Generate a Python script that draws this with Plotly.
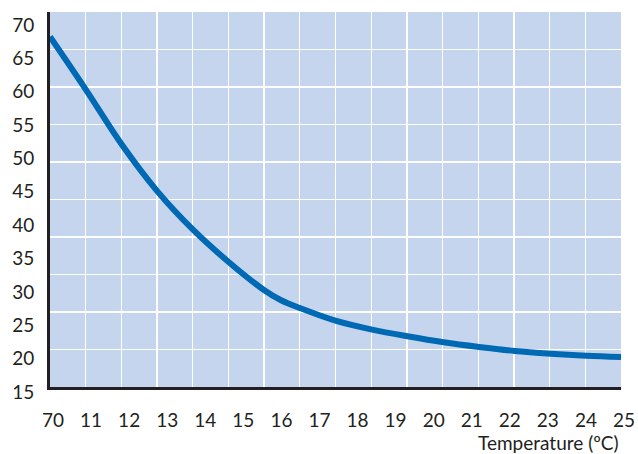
import plotly.graph_objects as go

# Curve readings (temperature, value)
temps = [10.00, 10.95, 11.89, 12.81, 13.77, 14.70, 15.63, 16.07, 16.58,
         17.52, 18.46, 19.39, 20.34, 21.27, 22.21, 23.15, 24.09, 25.00]
values = [67.5, 59.5, 51.3, 44.4, 38.5, 33.7, 29.5, 28.0, 26.8,
          24.9, 23.6, 22.6, 21.7, 21.0, 20.4, 20.0, 19.7, 19.5]

x_tickvals = list(range(10, 26))
x_ticktext = ["70", "11", "12", "13", "14", "15", "16", "17", "18", "19",
              "20", "21", "22", "23", "24", "25"]
y_tickvals = list(range(15, 75, 5))
y_ticktext = [str(v) for v in y_tickvals]
x_title = "Temperature (ºC)"

FONT = "Lato"
TXT = "#231F20"
FS = 19

fig = go.Figure()
# invisible trace to hold the grid subplot
fig.add_trace(go.Scatter(x=[0], y=[0], mode="markers", marker=dict(opacity=0),
                         hoverinfo="skip", showlegend=False, xaxis="x", yaxis="y"))
fig.add_trace(go.Scatter(x=temps, y=values, mode="lines",
                         line=dict(color="#0069B4", width=6, shape="spline", smoothing=1.0),
                         hoverinfo="skip", showlegend=False, xaxis="x2", yaxis="y2"))

fig.update_layout(
    template="none",
    width=638, height=454,
    margin=dict(l=50, r=17, t=12, b=67, pad=0),
    paper_bgcolor="white",
    plot_bgcolor="#C6D5EE",
    font=dict(family=FONT, size=FS, color=TXT),
    hovermode=False,
    xaxis=dict(range=[0, 16], dtick=1, tick0=0, showgrid=True, gridcolor="white", gridwidth=1.3,
               showticklabels=False, zeroline=False, ticks="", showline=False,
               automargin=False, fixedrange=True),
    yaxis=dict(range=[0, 10], dtick=1, tick0=0, showgrid=True, gridcolor="white", gridwidth=1.3,
               showticklabels=False, zeroline=False, ticks="", showline=False,
               automargin=False, fixedrange=True),
    xaxis2=dict(overlaying="x", anchor="y2", side="bottom", range=[10, 25],
                tickmode="array", tickvals=x_tickvals, ticktext=x_ticktext,
                showgrid=False, zeroline=False, ticks="",
                showline=True, linecolor=TXT, linewidth=3,
                ticklabelshift=3, ticklabelstandoff=14, automargin=False,
                ticklabeloverflow="allow", fixedrange=True,
                tickfont=dict(family=FONT, size=FS, color=TXT)),
    yaxis2=dict(overlaying="y", anchor="x2", side="left", range=[15, 71.2],
                tickmode="array", tickvals=y_tickvals, ticktext=y_ticktext,
                showgrid=False, zeroline=False, ticks="",
                showline=True, linecolor=TXT, linewidth=3,
                ticklabelshift=5, ticklabelstandoff=9, automargin=False,
                ticklabeloverflow="allow", fixedrange=True,
                tickfont=dict(family=FONT, size=FS, color=TXT)),
    annotations=[dict(text=x_title, xref="paper", yref="paper", x=1.0, y=-0.148,
                      xanchor="right", yanchor="middle", showarrow=False,
                      font=dict(family=FONT, size=FS, color=TXT))],
)

fig.write_html("out.html",
               config={"displayModeBar": False, "staticPlot": True},
               post_script="document.body.style.margin='0';document.body.style.overflow='hidden';")
